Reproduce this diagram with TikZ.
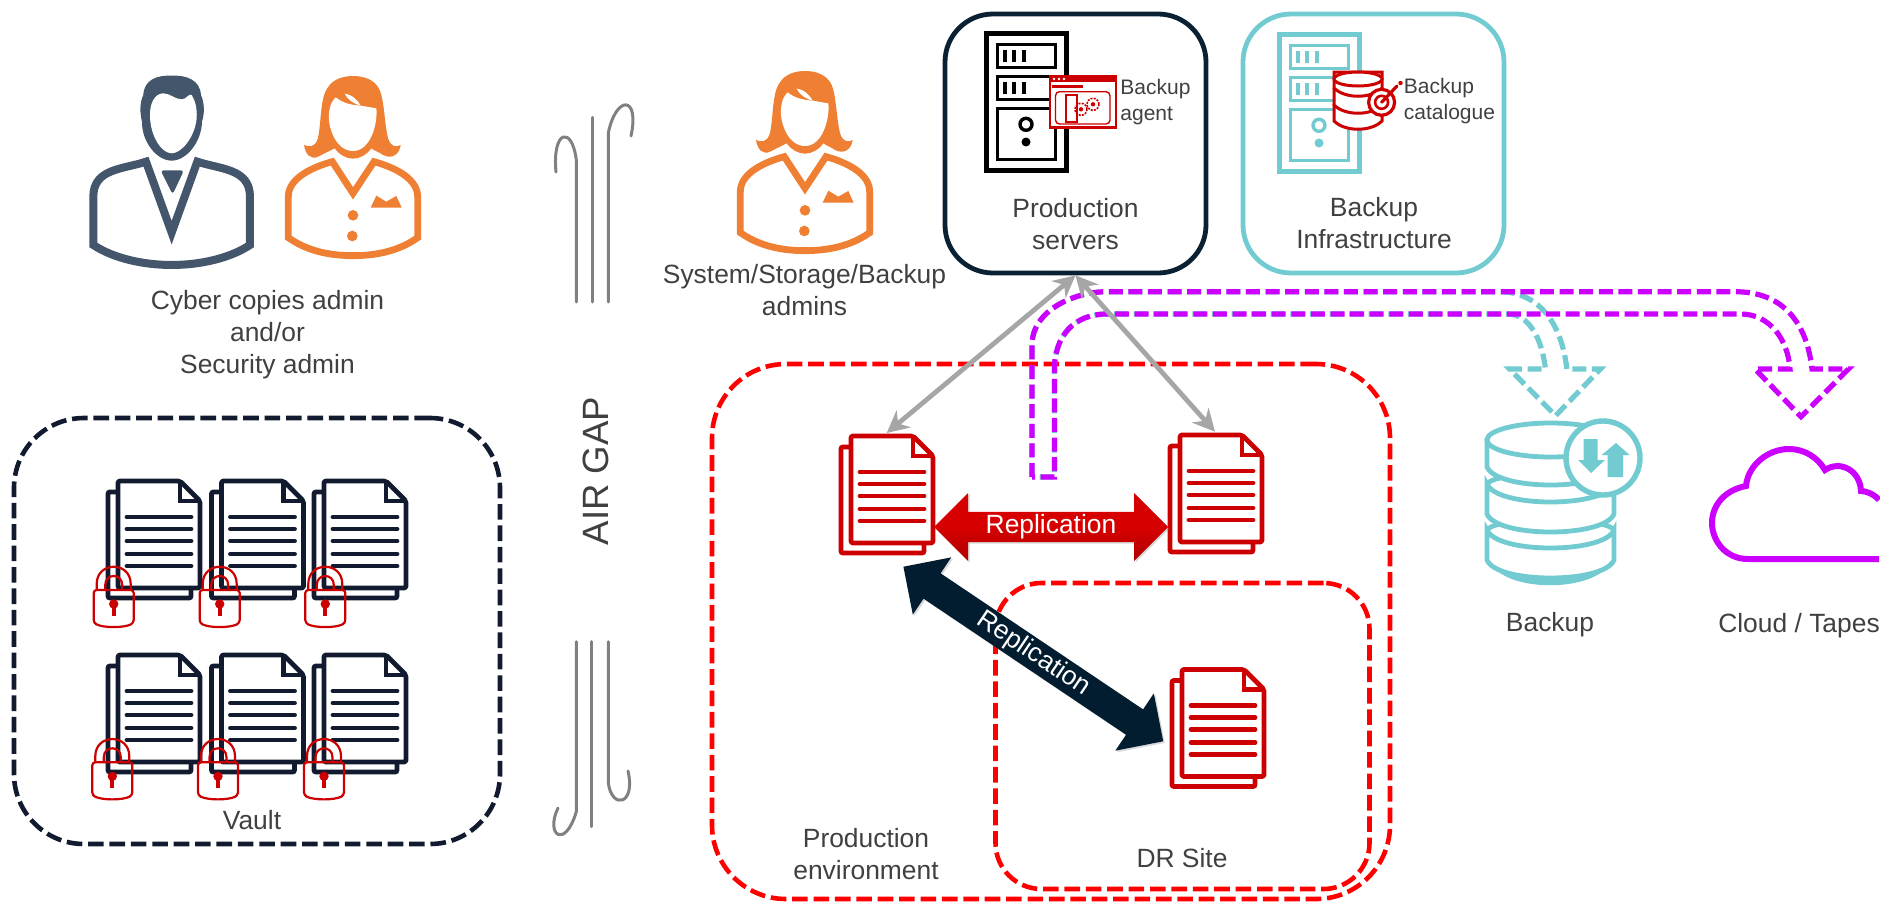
\documentclass[tikz,border=0pt]{standalone}
\usepackage{fontspec}
\setmainfont{Liberation Sans}
\usetikzlibrary{arrows.meta,shapes.arrows,shadows}

\definecolor{navyline}{HTML}{111A2E}
\definecolor{navybox}{HTML}{0A2033}
\definecolor{navyarrow}{HTML}{021C30}
\definecolor{redicon}{HTML}{CC0000}
\definecolor{redtop}{HTML}{D60000}
\definecolor{redbottom}{HTML}{B00000}
\definecolor{reddash}{HTML}{FF0000}
\definecolor{tealicon}{HTML}{72CBD0}
\definecolor{purpledash}{HTML}{CC00FF}
\definecolor{orangeicon}{HTML}{EF8033}
\definecolor{manblue}{HTML}{44566C}
\definecolor{textgray}{HTML}{404040}
\definecolor{hookgray}{HTML}{808080}
\definecolor{linkgray}{HTML}{A6A6A6}

\tikzset{
    txt/.style={text=textgray,inner sep=0pt,align=center,font=\fontsize{13.2}{16}\selectfont},
    smalltxt/.style={text=textgray,inner sep=0pt,align=left,anchor=west,font=\fontsize{10.5}{13}\selectfont},
    dashbox/.style={draw,dash pattern=on 7.8pt off 2.9pt,line width=2.3pt,inner sep=0pt},
    srvbox/.style={draw,line width=2.4pt,minimum width=130.5pt,minimum height=129.5pt,rounded corners=24pt,inner sep=0pt},
    hookline/.style={draw=hookgray,line width=1.5pt,line cap=round},
    blockarrow/.style={line width=2.6pt,dash pattern=on 7pt off 2.8pt},
    linkarrow/.style={draw=linkgray,line width=2.4pt,{Stealth[length=11pt,width=11pt]}-{Stealth[length=11pt,width=11pt]}},
    replarrow/.style={double arrow,inner sep=0pt,double arrow head extend=8pt,double arrow tip angle=90,
        text=white,font=\fontsize{13.2}{16}\selectfont,drop shadow={shadow xshift=.8pt,shadow yshift=-.8pt,opacity=.3}},
    % stack of two sheets
    pics/docstack/.style={code={
        \draw[#1,line width=2.4pt,rounded corners=1pt,line join=round] (0,0) -- (62,0) -- (82,20) -- (82,107) -- (0,107) -- cycle;
        \draw[#1,line width=2.4pt,rounded corners=1pt] (0,11) -- (-10,11) -- (-10,117) -- (73,117) -- (73,107);
        \draw[#1,line width=2.4pt] (62,0) -- (62,20) -- (82,20);
        \foreach \yline in {36,48,60,73,85}
            \draw[#1,line width=2.4pt,line cap=round] (9,\yline) -- (73,\yline);
    }},
    % padlock
    pics/padlock/.style={code={
        \draw[redicon,line width=1.1pt,rounded corners=1.5pt] (-20,0) -- (20,0) -- (20,33) .. controls (10,38) and (-10,38) .. (-20,33) -- cycle;
        \draw[redicon,line width=1.1pt] (-17,0) -- (-17,-6) .. controls (-17,-29) and (17,-29) .. (17,-6) -- (17,0);
        \draw[redicon,line width=1.1pt] (-8.5,0) -- (-8.5,-5) .. controls (-8.5,-17) and (8.5,-17) .. (8.5,-5) -- (8.5,0);
        \fill[redicon] (0,14) circle (4.7);
        \fill[redicon] (-2,14) rectangle (2,26);
    }},
    % tower server
    pics/tower/.style={code={
        \draw[#1,line width=2.5pt] (0,0) rectangle (80,137);
        \draw[#1,line width=1.6pt] (11.5,11.5) rectangle (69.5,34.5);
        \draw[#1,line width=1.6pt] (11.5,43.5) rectangle (69.5,66.5);
        \draw[#1,line width=1.6pt] (11.5,75.5) rectangle (69.5,126.5);
        \foreach \xtick in {18.5,28,38} {
            \fill[#1] (\xtick-2,17) rectangle (\xtick+2,29);
            \fill[#1] (\xtick-2,49) rectangle (\xtick+2,61);
        }
        \draw[#1,line width=1.7pt] (40,91.3) circle (6);
        \fill[#1] (40,109) circle (4.5);
    }},
    % man and woman, in thirds of a pixel
    pics/man/.style={code={
        \fill[#1] (335,77) .. controls (290,75) and (252,90) .. (250,135) .. controls (238,160) and (240,190) .. (246,215) .. controls (245,275) and (290,332) .. (335,332) .. controls (380,332) and (425,275) .. (426,215) .. controls (434,190) and (434,160) .. (423,135) .. controls (420,90) and (380,75) .. (335,77) -- cycle;
        \fill[white] (270,200) .. controls (268,160) and (285,130) .. (310,130) .. controls (330,130) and (345,148) .. (365,148) .. controls (380,148) and (385,130) .. (395,135) .. controls (405,150) and (412,175) .. (410,205) .. controls (405,260) and (365,310) .. (335,310) .. controls (305,310) and (272,260) .. (270,200) -- cycle;
        \draw[#1,line width=4pt,line join=miter] (258,335) -- (335,548) -- (412,335) .. controls (480,358) and (570,355) .. (570,440) -- (570,585) .. controls (510,625) and (420,645) .. (335,645) .. controls (250,645) and (160,625) .. (100,585) -- (100,440) .. controls (100,355) and (190,358) .. (258,335) -- cycle;
        \fill[#1,rounded corners=1.5pt] (302,361) -- (372,361) -- (338,433) -- cycle;
    }},
    pics/woman/.style={code={
        \fill[#1] (108,240) .. controls (125,248) and (140,245) .. (148,225) .. controls (160,190) and (155,100) .. (178,70) .. controls (195,40) and (230,33) .. (255,33) .. controls (285,33) and (320,42) .. (335,75) .. controls (350,110) and (350,190) .. (362,225) .. controls (370,245) and (385,248) .. (398,240) .. controls (395,265) and (375,285) .. (345,270) .. controls (335,262) and (320,258) .. (310,250) .. controls (295,270) and (275,281) .. (255,281) .. controls (235,281) and (215,270) .. (200,250) .. controls (185,258) and (170,265) .. (150,275) .. controls (130,285) and (112,270) .. (108,240) -- cycle;
        \fill[white] (203,97) .. controls (225,115) and (250,120) .. (278,122) -- (325,130) .. controls (330,170) and (310,258) .. (255,258) .. controls (205,258) and (180,190) .. (183,150) .. controls (184,125) and (190,110) .. (203,97) -- cycle;
        \fill[white] (230,86) .. controls (250,88) and (265,100) .. (278,122) .. controls (255,115) and (240,105) .. (230,86) -- cycle;
        \draw[#1,line width=3.4pt] (193,290) -- (255,385) -- (318,290) .. controls (390,310) and (449,345) .. (449,395) -- (449,518) .. controls (390,560) and (320,572) .. (255,572) .. controls (190,572) and (120,560) .. (61,518) -- (61,395) .. controls (61,345) and (120,310) .. (193,290) -- cycle;
        \fill[#1] (255,451) circle (16);
        \fill[#1] (253,513) circle (16);
        \fill[#1] (308,428) -- (325,392) -- (355,410) -- (385,393) -- (401,428) -- cycle;
    }}
}

\begin{document}
\begin{tikzpicture}[x=.5pt,y=-.5pt]

    \useasboundingbox (0,0) rectangle (1880,905);

    % Dashed areas
    \node[dashbox,draw=navyline,minimum width=243pt,minimum height=213pt,rounded corners=35pt] (vault) at (257,631) {};
    \node[dashbox,draw=reddash,minimum width=339pt,minimum height=267.5pt,rounded corners=37pt] (prodenv) at (1051,631.5) {};
    \node[dashbox,draw=reddash,minimum width=187pt,minimum height=153pt,rounded corners=23pt] (drsite) at (1182.5,736) {};

    % Admins
    \pic at (60,50) [scale=.3333] {man=manblue};
    \pic at (268,65) [scale=.3333] {woman=orangeicon};
    \pic at (720,60) [scale=.3333] {woman=orangeicon};
    \node[txt] (cyberadmin) at (267.5,335) {Cyber copies admin\\and/or\\Security admin};
    \node[txt] (sysadmin) at (804.5,290) {System/Storage/Backup\\admins};

    % Air gap
    \draw[hookline] (576.3,302) -- (576.3,160) .. controls (572,125) and (552,130) .. (556,172);
    \draw[hookline] (592.7,302) -- (592.7,117.3);
    \draw[hookline] (608.3,302) -- (608.3,133) .. controls (616,95) and (640,95) .. (631,136);
    \draw[hookline] (576.3,641.7) -- (576.3,811.7) .. controls (565,850) and (545,835) .. (558,808);
    \draw[hookline] (591.3,641.7) -- (591.3,826.7);
    \draw[hookline] (608.3,641.7) -- (608.3,783) .. controls (612,810) and (636,805) .. (628,771);
    \node[rotate=90,text=textgray,inner sep=0pt,font=\fontsize{18.3}{20}\selectfont] (airgap) at (596,471) {AIR GAP};

    % Vault contents
    \foreach \xdoc/\xlockone/\xlocktwo in {118/113.7/112.3,221.5/219.7/218,324/325.3/324} {
        \pic at (\xdoc,481) {docstack=navyline};
        \pic at (\xdoc,655) {docstack=navyline};
        \pic at (\xlockone,590) {padlock};
        \pic at (\xlocktwo,762.3) {padlock};
    }
    \node[txt] (vaultlabel) at (252,820) {Vault};

    % Top boxes
    \node[srvbox,draw=navybox] (prodsrv) at (1075.5,143.5) {};
    \node[srvbox,draw=tealicon] (backinfra) at (1373.5,143.5) {};
    \pic at (986,33) {tower=black};
    \pic at (1279,34) {tower=tealicon};

    % Backup agent window
    \draw[redicon,fill=white,line width=1.3pt] (1050,76) rectangle (1116,127.5);
    \fill[redicon] (1050,76) rectangle (1116,82);
    \foreach \xdot in {1054,1059,1064}
        \fill[white] (\xdot,79) circle (1.3);
    \fill[redicon] (1052,85) rectangle (1083,88);
    \draw[redicon,line width=.7pt,rounded corners=2pt] (1055.5,91.7) rectangle (1110,124);
    \draw[redicon,line width=1pt] (1066,95) rectangle (1077,121.7);
    \draw[redicon,line width=.8pt,dash pattern=on 1pt off .6pt] (1081,109.3) circle (6);
    \draw[redicon,line width=.8pt,dash pattern=on 1pt off .6pt] (1093,104.3) circle (6);
    \fill[redicon] (1081,109.3) circle (2.2);
    \fill[redicon] (1093,104.3) circle (2.2);

    % Backup catalogue database
    \foreach \ydisk in {105,89,72} {
        \draw[redicon,fill=white,line width=1.5pt] (1334,\ydisk) -- (1334,\ydisk+16) .. controls (1345,\ydisk+27) and (1371,\ydisk+27) .. (1382,\ydisk+16) -- (1382,\ydisk) -- cycle;
    }
    \draw[redicon,fill=white,line width=1.5pt] (1358,79) circle [x radius=24,y radius=7];
    \draw[redicon,fill=white,line width=1.6pt] (1381.6,102.3) circle (13);
    \draw[redicon,line width=1.3pt] (1381.6,102.3) circle (6.5);
    \draw[redicon,line width=1.6pt,line cap=round] (1381.6,102.3) -- (1397,86);
    \fill[redicon] (1400.5,83) circle (2.2);

    \node[smalltxt] (agentlabel) at (1120,102) {Backup\\agent};
    \node[smalltxt] (cataloguelabel) at (1403.5,101.5) {Backup\\catalogue};
    \node[txt] (prodlabel) at (1075.5,224.5) {Production\\servers};
    \node[txt] (infralabel) at (1374,223) {Backup\\Infrastructure};

    % Copies flowing to backup and to cloud
    \draw[tealicon,blockarrow] (1032,477) -- (1032,345) .. controls (1032,310) and (1075,291.7) .. (1106.6,291.7) -- (1499,291.7) .. controls (1540,291.7) and (1562,325) .. (1566.8,369) -- (1600.4,369) -- (1555.6,415.7) -- (1509.5,369) -- (1545.5,369) .. controls (1542,340) and (1530,314) .. (1507,314) -- (1106.6,314) .. controls (1075,314) and (1054.4,335) .. (1054.4,370) -- (1054.4,477) -- cycle;
    \draw[purpledash,blockarrow] (1032,477) -- (1032,345) .. controls (1032,310) and (1075,291.7) .. (1106.6,291.7) -- (1735,291.7) .. controls (1785,291.7) and (1807,325) .. (1812,369) -- (1848.5,369) -- (1801,416.7) -- (1755,369) -- (1790,369) .. controls (1788,340) and (1770,314) .. (1740.7,314) -- (1106.6,314) .. controls (1075,314) and (1054.4,335) .. (1054.4,370) -- (1054.4,477) -- cycle;

    % Production and DR copies
    \pic at (851,436) {docstack=redicon};
    \pic at (1180,435) {docstack=redicon};
    \pic at (1182,669.5) {docstack=redicon};
    \coordinate (docleft) at (886.7,433);
    \coordinate (docright) at (1215,431.7);
    \draw[linkarrow] (prodsrv.south) -- (docleft);
    \draw[linkarrow] (prodsrv.south) -- (docright);

    \node[replarrow,shade,top color=redtop,bottom color=redbottom,middle color=redtop,minimum height=117pt,minimum width=34pt] (replone) at (1051,527) {Replication};
    \node[replarrow,fill=navyarrow,rotate=-33.9,minimum height=156.5pt,minimum width=34.5pt] (repltwo) at (1033.3,654) {Replication};

    \node[txt] (envlabel) at (866,854.5) {Production\\environment};
    \node[txt] (drlabel) at (1182,858.5) {DR Site};

    % Backup stack
    \foreach \ydisk in {530,484} {
        \draw[tealicon,fill=white,line width=2.4pt] (1487,\ydisk) .. controls (1497,\ydisk+24) and (1604,\ydisk+24) .. (1614,\ydisk) -- (1614,\ydisk+30) .. controls (1604,\ydisk+54) and (1497,\ydisk+54) .. (1487,\ydisk+30) -- cycle;
        \draw[tealicon,fill=white,line width=2.4pt] (1487,\ydisk) .. controls (1497,\ydisk-14) and (1604,\ydisk-14) .. (1614,\ydisk);
    }
    \draw[tealicon,fill=white,line width=2.4pt] (1487,440) -- (1487,467) .. controls (1497,491) and (1604,491) .. (1614,467) -- (1614,440) -- cycle;
    \draw[tealicon,fill=white,line width=2.4pt] (1550.5,440) circle [x radius=63.5,y radius=17];
    \fill[tealicon] (1492,565) .. controls (1510,592) and (1590,592) .. (1609,565) .. controls (1590,580) and (1510,580) .. (1492,565) -- cycle;
    \draw[tealicon,fill=white,line width=2.7pt] (1603,458) circle (37);
    \fill[tealicon] (1583.6,439) -- (1597.7,439) -- (1597.7,460) -- (1605,460) -- (1591,473) -- (1578,460) -- (1583.6,460) -- cycle;
    \fill[tealicon] (1616,443) -- (1629.6,455) -- (1623,455) -- (1623,477) -- (1607.7,477) -- (1607.7,455) -- (1601.6,455) -- cycle;
    \node[txt] (backuplabel) at (1550,625) {Backup};

    % Cloud
    \draw[purpledash,line width=3pt] (1879,559) -- (1748,559) .. controls (1725,559) and (1712,540) .. (1712,523) .. controls (1712,505) and (1725,490) .. (1746,486) .. controls (1748,465) and (1768,449) .. (1789,449) .. controls (1805,449) and (1818,458) .. (1825,470) .. controls (1840,460) and (1860,470) .. (1861,491) .. controls (1866,491) and (1874,494) .. (1879,500);
    \node[txt] (cloudlabel) at (1799,626) {Cloud / Tapes};

\end{tikzpicture}
\end{document}
